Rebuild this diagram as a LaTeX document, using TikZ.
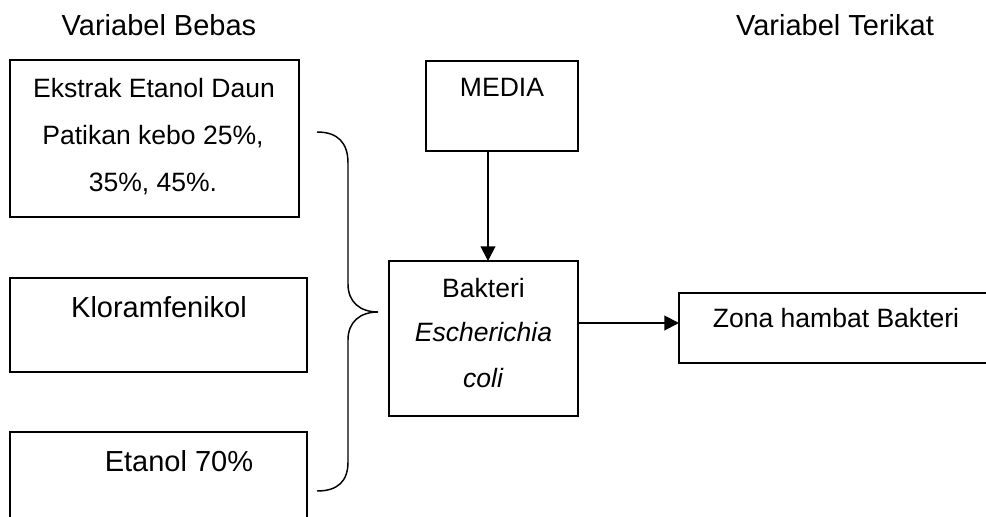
\documentclass[tikz,border=0pt]{standalone}
\usepackage{fontspec}
\setmainfont{Liberation Sans}
\usetikzlibrary{arrows.meta}
\newcommand{\bigtxt}{\fontsize{21.75pt}{26pt}\selectfont}
\newcommand{\smtxt}{\fontsize{19.9pt}{24pt}\selectfont}
\begin{document}
\begin{tikzpicture}[x=0.75pt,y=-0.75pt,
  box/.style={draw=black,line width=1.5pt,rectangle,inner sep=0pt,outer sep=0pt},
  lbl/.style={anchor=base,inner sep=0pt},
  arr/.style={line width=1.5pt,-{Triangle[length=11pt,width=11pt]}},
  brace/.style={line width=1.1pt}]
\useasboundingbox[fill=white] (0,0) rectangle (986,517);
% headers
\node[lbl] (h1) at (159,36) {\bigtxt Variabel Bebas};
\node[lbl] (h2) at (835,36) {\bigtxt Variabel Terikat};
% boxes
\node[box,minimum width=289*0.75pt,minimum height=157*0.75pt] (b1) at (154.5,138.5) {};
\node[box,minimum width=297*0.75pt,minimum height=94*0.75pt] (b2) at (158.5,325) {};
\node[box,minimum width=297*0.75pt,minimum height=128*0.75pt] (b3) at (158.5,496) {};
\node[box,minimum width=152*0.75pt,minimum height=90*0.75pt] (media) at (502,106) {};
\node[box,minimum width=189*0.75pt,minimum height=155*0.75pt] (bak) at (483.5,338.5) {};
\node[box,minimum width=321*0.75pt,minimum height=70*0.75pt] (zona) at (839.5,328) {};
% texts
\node[lbl] (t1a) at (154,98) {\smtxt Ekstrak Etanol Daun};
\node[lbl] (t1b) at (153,144) {\smtxt Patikan kebo 25\%,};
\node[lbl] (t1c) at (153,191.5) {\smtxt 35\%, 45\%.};
\node[lbl] (t2) at (159,317) {\bigtxt Kloramfenikol};
\node[lbl] (t3) at (179,471) {\bigtxt Etanol 70\%};
\node[lbl] (tm) at (502,97) {\smtxt MEDIA};
\node[lbl] (tb1) at (483.5,297) {\smtxt Bakteri};
\node[lbl] (tb2) at (483.5,341) {\smtxt\itshape Escherichia};
\node[lbl] (tb3) at (483,387) {\smtxt\itshape coli};
\node[lbl] (tz) at (836,327) {\smtxt Zona hambat Bakteri};
% arrows
\coordinate (ax) at (488,0);
\coordinate (ay) at (0,323);
\draw[arr] (media.south -| ax) -- (bak.north -| ax);
\draw[arr] (bak.east |- ay) -- (zona.west |- ay);
% brace
\coordinate (bt) at (317,132);
\coordinate (bm) at (378,312);
\coordinate (bb) at (317,491);
\draw[brace] (bt) .. controls (338,132) and (348,143) .. (348,163)
  -- (348,284) .. controls (348,302) and (360,312) .. (bm)
  .. controls (360,312) and (348,322) .. (348,340)
  -- (348,462) .. controls (348,481) and (338,491) .. (bb);
\end{tikzpicture}
\end{document}
